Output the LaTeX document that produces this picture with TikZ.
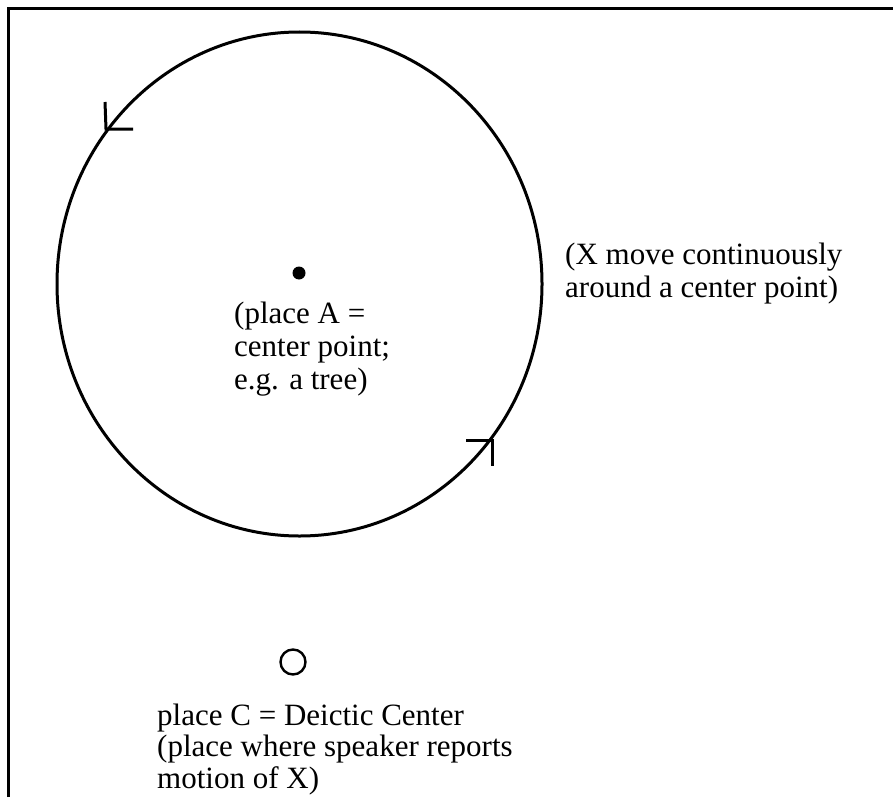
\documentclass[tikz,border=0pt]{standalone}
\usepackage{fontspec}
\setmainfont{Liberation Serif}
\usetikzlibrary{shapes.geometric}
\begin{document}
\begin{tikzpicture}[x=1pt,y=-1pt,
  lbl/.style={align=left, anchor=base west, inner sep=0pt, font=\fontsize{31}{33}\selectfont},
  stroke/.style={line width=3pt},
  tick/.style={line width=3pt, line cap=butt}]
\useasboundingbox (0,0) rectangle (893,797);
\fill[white] (0,0) rectangle (893,797);
% frame
\draw[line width=3pt] (8,797) -- (8,9) -- (893,9);
% orbit
\node[draw, stroke, ellipse, minimum width=485pt, minimum height=504pt, inner sep=0pt] (orbit) at (299.5,284) {};
% arrowheads on the orbit
\coordinate (h1) at (106,129);
\coordinate (h1a) at (105,102);
\coordinate (h1b) at (133,129);
\draw[tick] (h1a) -- (h1) -- (h1b);
\coordinate (h2) at (492,440);
\coordinate (h2a) at (466,440);
\coordinate (h2b) at (492,466);
\draw[tick] (h2a) -- (h2) -- (h2b);
% place A
\node[circle, fill, minimum size=13pt, inner sep=0pt] (A) at (299,273) {};
\node[lbl] (Alab) at (234,389) {(place A =\\center point;\\e.g. a tree)};
% description
\node[lbl] (Xlab) at (565,297) {(X move continuously\\around a center point)};
% place C
\node[circle, draw, line width=2.4pt, minimum size=25pt, inner sep=0pt] (C) at (293,662) {};
\node[lbl, font=\fontsize{31}{31.5}\selectfont] (Clab) at (157,788) {place C = Deictic Center\\(place where speaker reports\\motion of X)};
\end{tikzpicture}
\end{document}
